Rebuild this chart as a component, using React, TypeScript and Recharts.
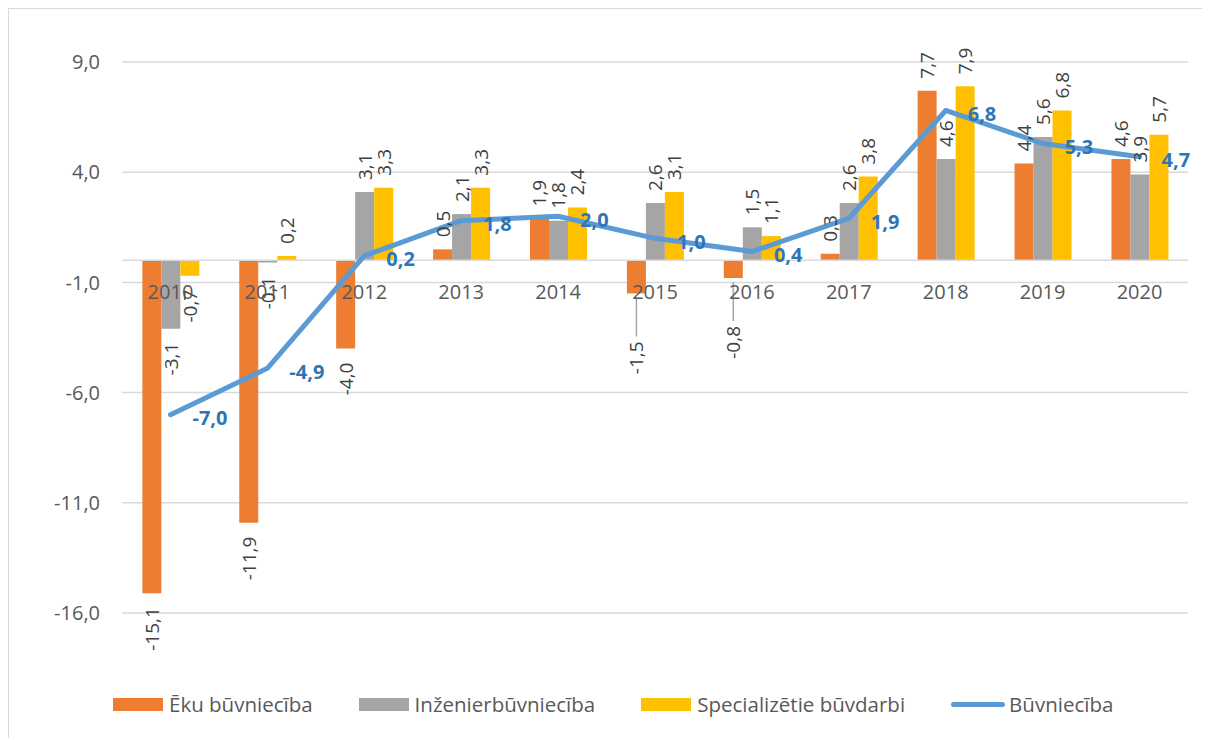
import {
  ComposedChart,
  Bar,
  Line,
  XAxis,
  YAxis,
  CartesianGrid,
  ReferenceLine,
  ReferenceDot,
  Legend,
  LabelList,
} from "recharts";

const years = ["2010", "2011", "2012", "2013", "2014", "2015", "2016", "2017", "2018", "2019", "2020"];
const ekuValues = [-15.1, -11.9, -4.0, 0.5, 1.9, -1.5, -0.8, 0.3, 7.7, 4.4, 4.6];
const inzValues = [-3.1, -0.1, 3.1, 2.1, 1.8, 2.6, 1.5, 2.6, 4.6, 5.6, 3.9];
const specValues = [-0.7, 0.2, 3.3, 3.3, 2.4, 3.1, 1.1, 3.8, 7.9, 6.8, 5.7];
const buvValues = [-7.0, -4.9, 0.2, 1.8, 2.0, 1.0, 0.4, 1.9, 6.8, 5.3, 4.7];
const yTicks = [-16, -11, -6, -1, 4, 9];
const seriesNames = ["Ēku būvniecība", "Inženierbūvniecība", "Specializētie būvdarbi", "Būvniecība"];

const data = years.map((year, i) => ({
  year,
  eku: ekuValues[i],
  inz: inzValues[i],
  spec: specValues[i],
  buv: buvValues[i],
}));

const FONT = "'Open Sans', sans-serif";
const fmt = (v: number) => v.toFixed(1).replace(".", ",");

// rotated value labels, like the Excel "outside end" ones
const BarLabel = (props: any) => {
  const { x, y, width, height, value, pushSmall } = props;
  if (value == null) return null;
  const cx = x + width / 2;
  const top = Math.min(y, y + height);
  const bottom = Math.max(y, y + height);
  if (value >= 0) {
    const ly = top - 12;
    return (
      <text
        x={cx}
        y={ly}
        transform={`rotate(-90, ${cx}, ${ly})`}
        textAnchor="start"
        dominantBaseline="central"
        fontFamily={FONT}
        fontSize={19}
        fill="#404040"
      >
        {fmt(value)}
      </text>
    );
  }
  const pushed = pushSmall && value > -2;
  const ly = pushed ? bottom + 48 : bottom + 14;
  return (
    <g>
      {pushed && (
        <line x1={cx} y1={bottom + 4} x2={cx} y2={ly - 5} stroke="#a6a6a6" strokeWidth={1.5} />
      )}
      <text
        x={cx}
        y={ly}
        transform={`rotate(-90, ${cx}, ${ly})`}
        textAnchor="end"
        dominantBaseline="central"
        fontFamily={FONT}
        fontSize={19}
        fill="#404040"
      >
        {fmt(value)}
      </text>
    </g>
  );
};

const LineLabel = (props: any) => {
  const { x, y, value } = props;
  return (
    <text
      x={x + 22}
      y={y + 3}
      dominantBaseline="central"
      fontFamily={FONT}
      fontSize={20}
      fontWeight="bold"
      fill="#2E75B6"
    >
      {fmt(value)}
    </text>
  );
};

const LegendContent = (props: any) => {
  const items = [...props.payload].sort(
    (a: any, b: any) => seriesNames.indexOf(a.value) - seriesNames.indexOf(b.value)
  );
  return (
    <div style={{ display: "flex", paddingLeft: 104, alignItems: "center", fontFamily: FONT, fontSize: 20.5, color: "#595959" }}>
      {items.map((entry: any) => (
        <div key={entry.value} style={{ display: "flex", alignItems: "center", marginRight: 46 }}>
          {entry.type === "line" ? (
            <div style={{ width: 54, height: 5, borderRadius: 3, background: entry.color, marginRight: 4 }} />
          ) : (
            <div style={{ width: 50, height: 13, background: entry.color, marginRight: 6 }} />
          )}
          <span>{entry.value}</span>
        </div>
      ))}
    </div>
  );
};

export default function App() {
  return (
    <div
      style={{
        width: 1202,
        height: 730,
        boxSizing: "border-box",
        borderLeft: "1px solid #d9d9d9",
        borderTop: "1px solid #d9d9d9",
        background: "#fff",
      }}
    >
      <ComposedChart
        width={1201}
        height={729}
        data={data}
        margin={{ top: 53, right: 22, left: 0, bottom: 125 }}
        barCategoryGap="21%"
        barGap={0}
      >
        <CartesianGrid vertical={false} stroke="#d9d9d9" strokeWidth={1.5} />
        <XAxis dataKey="year" hide />
        <YAxis
          width={113}
          domain={[-16, 9]}
          ticks={yTicks}
          axisLine={false}
          tickLine={false}
          tickSize={0}
          tickMargin={22}
          tickFormatter={fmt}
          tick={{ fontFamily: FONT, fontSize: 20, fill: "#595959" }}
        />
        <ReferenceLine y={0} stroke="#d9d9d9" strokeWidth={1.5} />
        <Bar dataKey="eku" name={seriesNames[0]} fill="#ED7D31" isAnimationActive={false}>
          <LabelList dataKey="eku" content={(p: any) => <BarLabel {...p} pushSmall />} />
        </Bar>
        <Bar dataKey="inz" name={seriesNames[1]} fill="#A5A5A5" isAnimationActive={false}>
          <LabelList dataKey="inz" content={(p: any) => <BarLabel {...p} />} />
        </Bar>
        <Bar dataKey="spec" name={seriesNames[2]} fill="#FFC000" isAnimationActive={false}>
          <LabelList dataKey="spec" content={(p: any) => <BarLabel {...p} />} />
        </Bar>
        <Line
          dataKey="buv"
          name={seriesNames[3]}
          type="linear"
          stroke="#5B9BD5"
          strokeWidth={5}
          strokeLinecap="round"
          strokeLinejoin="round"
          dot={false}
          legendType="line"
          isAnimationActive={false}
        >
          <LabelList dataKey="buv" content={(p: any) => <LineLabel {...p} />} />
        </Line>
        {years.map((year) => (
          <ReferenceDot
            key={year}
            x={year}
            y={-1.45}
            r={0}
            fill="none"
            stroke="none"
            label={{ value: year, position: "center", fontFamily: FONT, fontSize: 20, fill: "#595959" }}
          />
        ))}
        <Legend
          verticalAlign="middle"
          align="center"
          layout="horizontal"
          wrapperStyle={{ top: 681, left: 0, width: 1201 }}
          content={<LegendContent />}
        />
      </ComposedChart>
    </div>
  );
}
